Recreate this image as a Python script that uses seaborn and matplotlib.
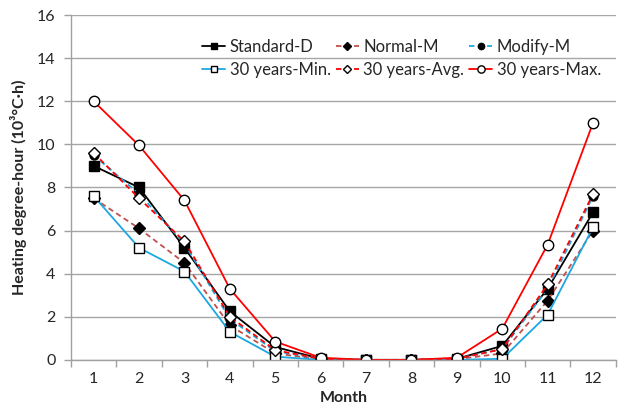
import numpy as np
import pandas as pd
import matplotlib
matplotlib.use("Agg")
import matplotlib.pyplot as plt
import seaborn as sns

months = list(range(1, 13))
standard_d = [9.0, 8.0, 5.2, 2.25, 0.6, 0.05, 0.0, 0.0, 0.05, 0.65, 3.3, 6.85]
normal_m = [7.5, 6.1, 4.5, 1.6, 0.3, 0.02, 0.0, 0.0, 0.03, 0.3, 2.75, 6.0]
modify_m = [9.5, 7.7, 5.4, 1.9, 0.4, 0.05, 0.0, 0.0, 0.05, 0.5, 3.3, 7.6]
min30 = [7.6, 5.2, 4.1, 1.3, 0.15, 0.0, 0.0, 0.0, 0.0, 0.05, 2.1, 6.15]
avg30 = [9.6, 7.5, 5.5, 2.0, 0.45, 0.05, 0.0, 0.0, 0.05, 0.5, 3.5, 7.7]
max30 = [12.0, 9.95, 7.4, 3.3, 0.85, 0.1, 0.0, 0.0, 0.1, 1.45, 5.35, 11.0]
y_ticks = [0, 2, 4, 6, 8, 10, 12, 14, 16]

sns.set_theme(style="white")
plt.rcParams['font.family'] = ['Lato', 'DejaVu Sans']

fig = plt.figure(figsize=(6.22, 4.17), dpi=100)
ax = fig.add_axes([0.114, 0.137, 0.876, 0.827])

series = [
    ("Standard-D", standard_d, dict(color="black", linestyle="-", marker="s", markersize=7,
                                     markerfacecolor="black", markeredgecolor="black")),
    ("Normal-M", normal_m, dict(color="#C0504D", linestyle=(0, (3, 2)), marker="D", markersize=6,
                                 markerfacecolor="black", markeredgecolor="black")),
    ("Modify-M", modify_m, dict(color="#1BA8E0", linestyle=(0, (3, 2)), marker="o", markersize=6.5,
                                 markerfacecolor="black", markeredgecolor="black")),
    ("30 years-Min.", min30, dict(color="#1BA8E0", linestyle="-", marker="s", markersize=7,
                                   markerfacecolor="white", markeredgecolor="black")),
    ("30 years-Avg.", avg30, dict(color="#FF0000", linestyle=(0, (3, 2)), marker="D", markersize=6,
                                   markerfacecolor="white", markeredgecolor="black")),
    ("30 years-Max.", max30, dict(color="#FF0000", linestyle="-", marker="o", markersize=7.5,
                                   markerfacecolor="white", markeredgecolor="black")),
]

for name, vals, st in series:
    df = pd.DataFrame({"Month": months, "v": vals})
    sns.lineplot(data=df, x="Month", y="v", ax=ax, linewidth=1.3, markeredgewidth=1.0,
                 label=name, **st)

h, l = ax.get_legend_handles_labels()
hd = dict(zip(l, h))
order = ["Standard-D", "30 years-Min.", "Normal-M", "30 years-Avg.", "Modify-M", "30 years-Max."]
ax.legend([hd[k] for k in order], order, ncol=3, loc="upper right",
          bbox_to_anchor=(1.0, 0.975), frameon=False, fontsize=12,
          handlelength=1.4, handletextpad=0.25, columnspacing=0.3, labelspacing=0.45,
          markerscale=0.7)

ax.set_xlim(0.5, 12.5)
ax.set_ylim(0, 16)
ax.set_yticks(y_ticks)
ax.set_yticklabels([str(t) for t in y_ticks], fontsize=11.5)
ax.set_xticks(months)
ax.set_xticklabels([str(m) for m in months], fontsize=11.5)
ax.set_xticks(np.arange(0.5, 13, 1), minor=True)
ax.tick_params(axis="x", which="major", length=0, pad=9)
ax.tick_params(axis="x", which="minor", length=5, width=1, color="#A0A0A0", direction="out", bottom=True)
ax.tick_params(axis="y", which="major", length=5, width=1, color="#A0A0A0", direction="out", left=True, pad=6)

ax.yaxis.grid(True, color="#A6A6A6", linewidth=1)
ax.xaxis.grid(False)
for s in ["top", "right"]:
    ax.spines[s].set_visible(False)
for s in ["left", "bottom"]:
    ax.spines[s].set_color("#A0A0A0")
    ax.spines[s].set_linewidth(1)

ax.set_xlabel("Month", fontsize=11.5, fontweight="bold", labelpad=3)
ax.set_ylabel("Heating degree-hour (10³°C·h)", fontsize=11.5, fontweight="bold", labelpad=7)

fig.savefig("out.png", dpi=100)
